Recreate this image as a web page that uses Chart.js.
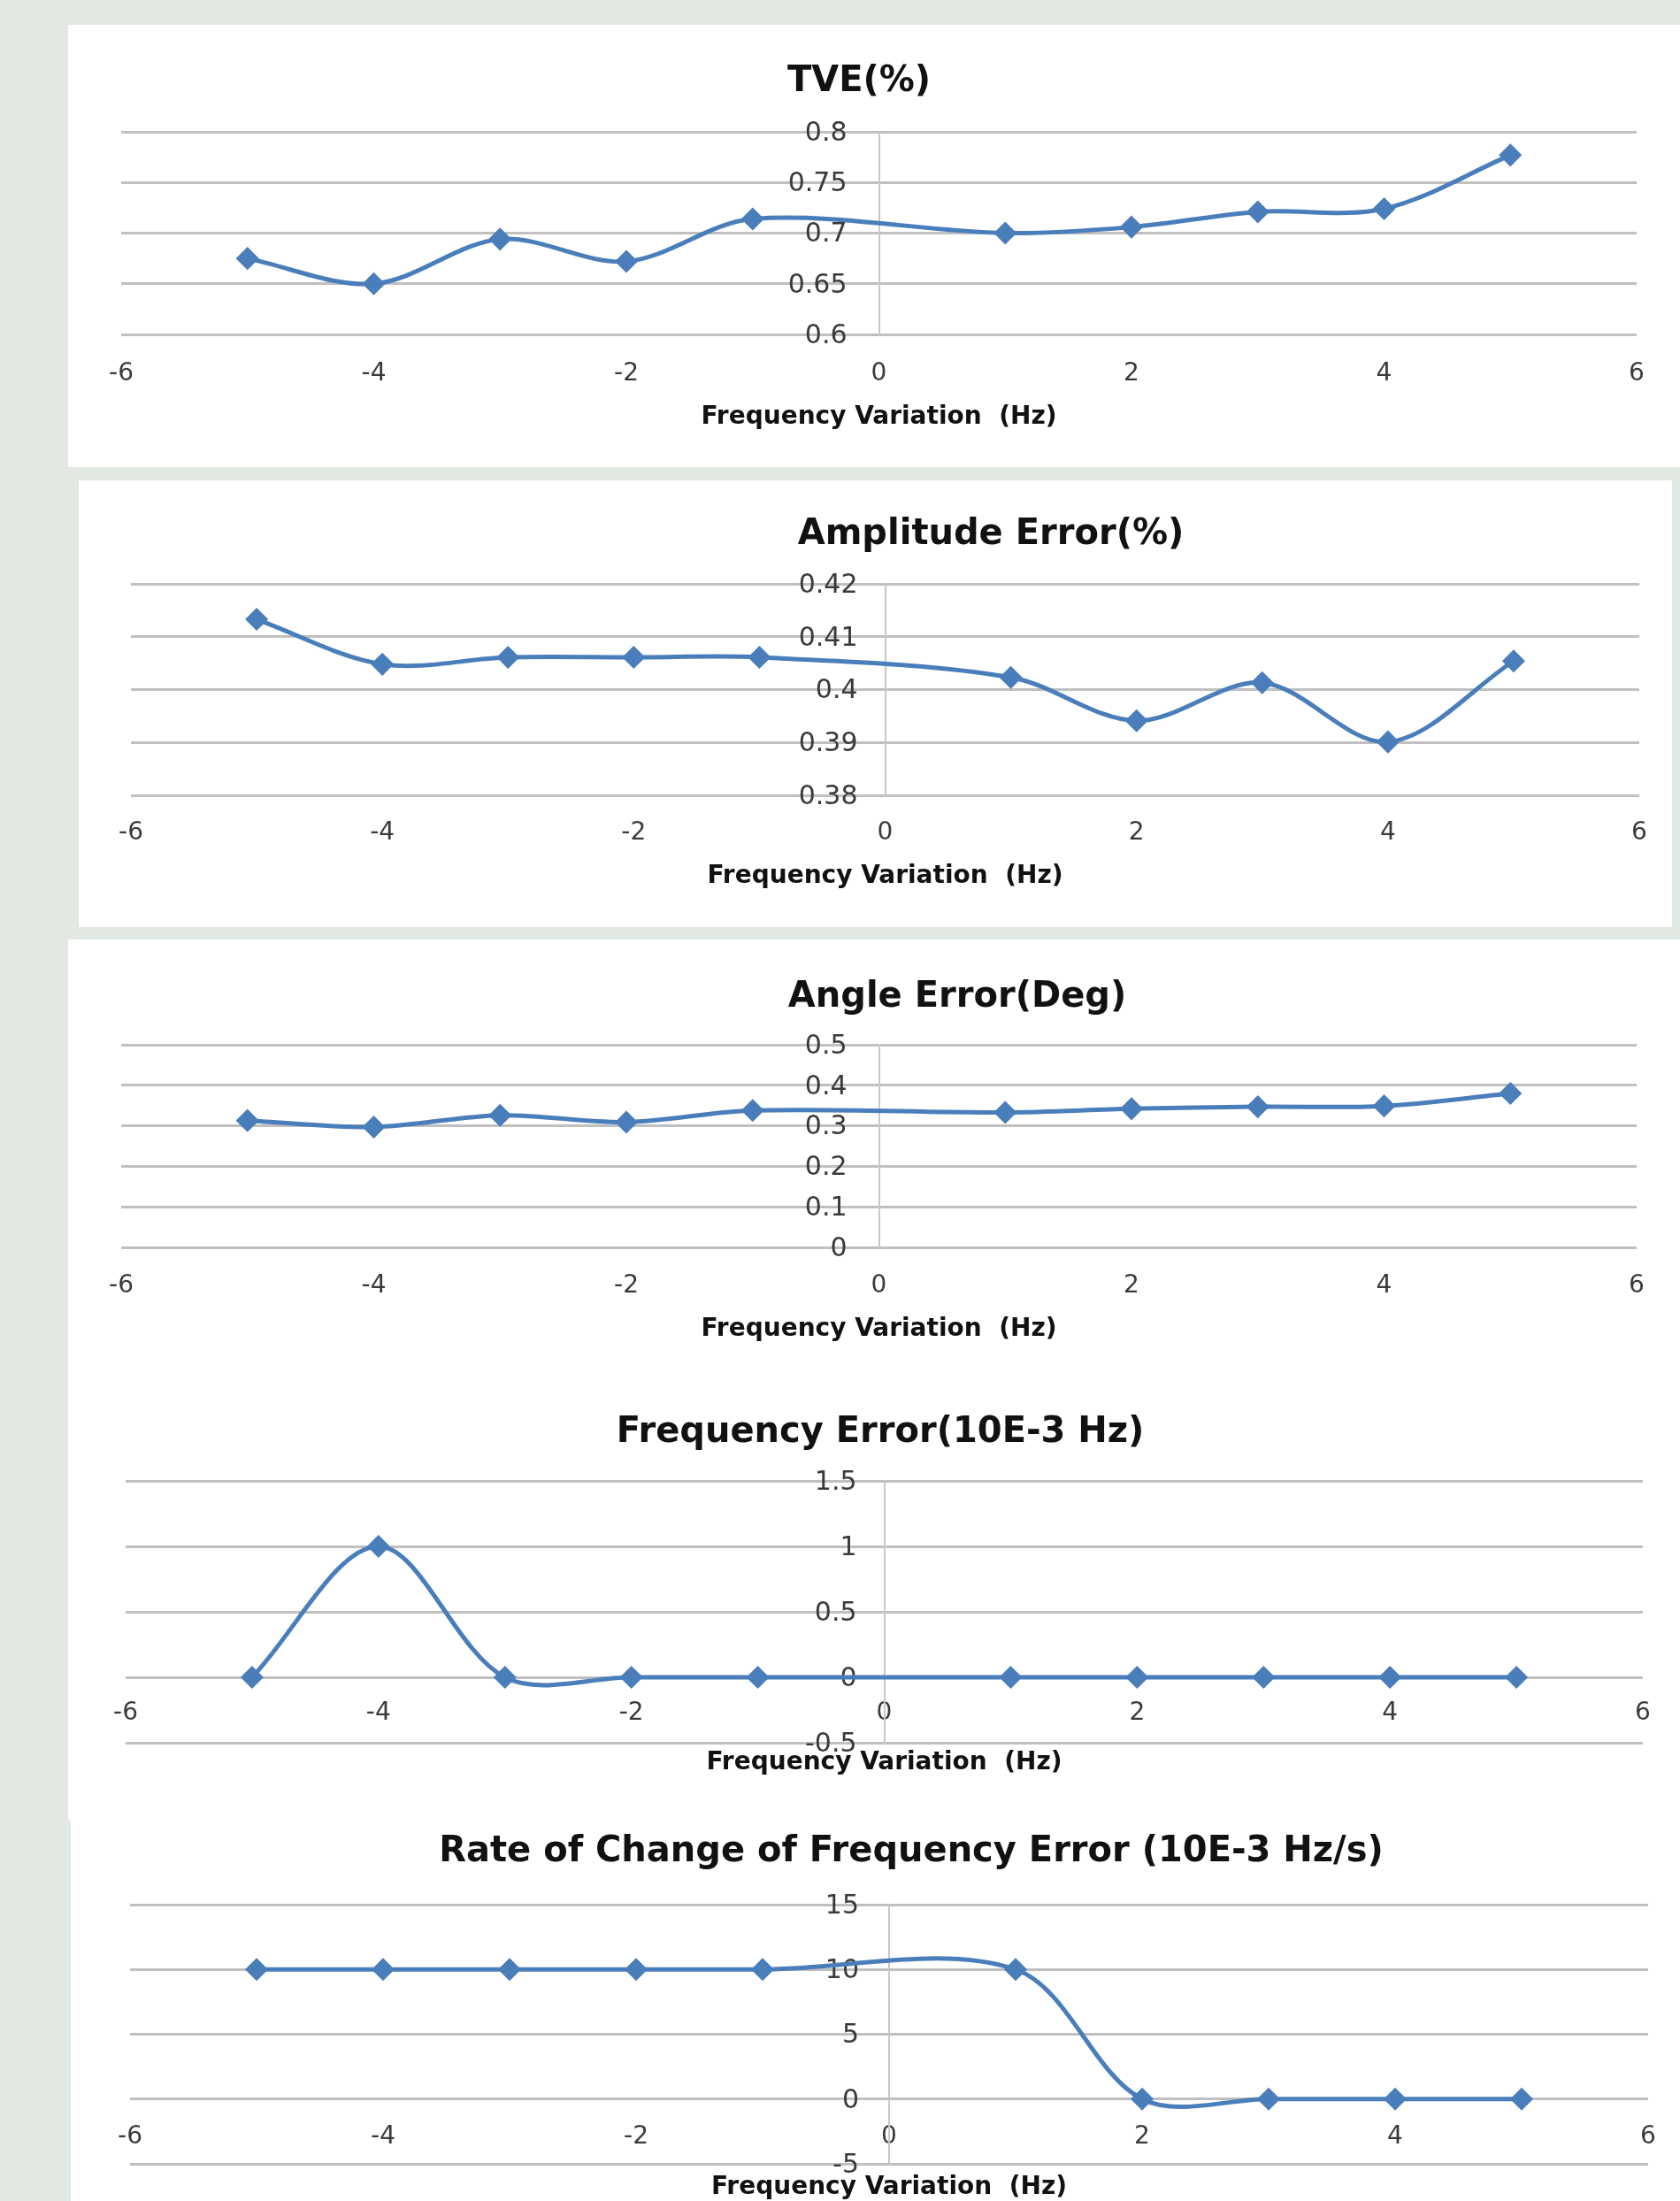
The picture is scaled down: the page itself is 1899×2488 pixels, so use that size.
<!DOCTYPE html>
<html>
<head>
<meta charset="utf-8">
<script src="https://cdn.jsdelivr.net/npm/chart.js@4.4.1/dist/chart.umd.min.js"></script>
<style>
html,body{margin:0;padding:0;background:#e2e8e2;}
body{width:1899px;height:2488px;position:relative;overflow:hidden;}
.panel{position:absolute;background:#ffffff;overflow:hidden;}
.panel canvas{position:absolute;left:0;top:0;}
</style>
</head>
<body>
<div class="panel" id="p1"><canvas id="c1"></canvas></div>
<div class="panel" id="p2"><canvas id="c2"></canvas></div>
<div class="panel" id="p3"><canvas id="c3"></canvas></div>
<div class="panel" id="p4"><canvas id="c4"></canvas></div>
<div class="panel" id="p5"><canvas id="c5"></canvas></div>
<script>
// ---------------- DATA ----------------
const freqVariation = [-5, -4, -3, -2, -1, 1, 2, 3, 4, 5];
const xTickValues = [-6, -4, -2, 0, 2, 4, 6];
const xAxisTitle = 'Frequency Variation  (Hz)';

const tveTitle = 'TVE(%)';
const tveValues = [0.675, 0.650, 0.694, 0.672, 0.714, 0.700, 0.706, 0.721, 0.724, 0.777];
const tveTicks = [0.6, 0.65, 0.7, 0.75, 0.8];

const amplitudeTitle = 'Amplitude Error(%)';
const amplitudeValues = [0.4133, 0.4048, 0.4061, 0.4061, 0.4061, 0.4023, 0.3941, 0.4013, 0.3901, 0.4054];
const amplitudeTicks = [0.38, 0.39, 0.4, 0.41, 0.42];

const angleTitle = 'Angle Error(Deg)';
const angleValues = [0.313, 0.297, 0.326, 0.309, 0.338, 0.333, 0.342, 0.347, 0.349, 0.380];
const angleTicks = [0, 0.1, 0.2, 0.3, 0.4, 0.5];

const freqErrTitle = 'Frequency Error(10E-3 Hz)';
const freqErrValues = [0, 1, 0, 0, 0, 0, 0, 0, 0, 0];
const freqErrTicks = [-0.5, 0, 0.5, 1, 1.5];

const rocofTitle = 'Rate of Change of Frequency Error (10E-3 Hz/s)';
const rocofValues = [10, 10, 10, 10, 10, 10, 0, 0, 0, 0];
const rocofTicks = [-5, 0, 5, 10, 15];

// ---------------- LAYOUT / STYLE ----------------
const layouts = {
  p1: {x: 77, y: 28,   w: 1822, h: 500, ch: 500, plot: {left: 137, right: 1850, top: 149,  bottom: 378},  titleX: 971,  titleY: 93,   axisTitleY: 472,  gap: 45, yShift: 36},
  p2: {x: 89, y: 543,  w: 1801, h: 505, ch: 505, plot: {left: 148, right: 1853, top: 660,  bottom: 899},  titleX: 1120, titleY: 605,  axisTitleY: 991,  gap: 43, yShift: 31},
  p3: {x: 77, y: 1062, w: 1822, h: 493, ch: 493, plot: {left: 137, right: 1850, top: 1181, bottom: 1410}, titleX: 1082, titleY: 1128, axisTitleY: 1503, gap: 44, yShift: 36},
  p4: {x: 77, y: 1555, w: 1822, h: 503, ch: 503, plot: {left: 142, right: 1857, top: 1674, bottom: 1970}, titleX: 995,  titleY: 1620, axisTitleY: 1993, gap: 41, yShift: 31},
  p5: {x: 80, y: 2058, w: 1819, h: 430, ch: 460, plot: {left: 147, right: 1863, top: 2153, bottom: 2446}, titleX: 1030, titleY: 2094, axisTitleY: 2473, gap: 43, yShift: 34}
};
const BLUE = '#4a7ebb';
const FONT = 'DejaVu Sans';
const TITLE_SIZE = 40, AXIS_TITLE_SIZE = 28, X_TICK_SIZE = 28, Y_TICK_SIZE = 30, LH = 1.2;

function fmt(v) { return String(+(+v).toFixed(4)); }

// moves the labels of a y axis that sits at x = 0 a little to the left of the axis line
const yLabelShift = {
  id: 'yLabelShift',
  beforeDraw(chart, args, opts) {
    const s = chart.scales.y;
    if (!s) return;
    const items = s.getLabelItems(chart.chartArea);
    items.forEach(it => {
      if (!it._shifted && it.options && it.options.translation) {
        it.options.translation[0] -= opts.shift || 0;
        it._shifted = true;
      }
    });
  }
};

function makeChart(panelId, canvasId, titleText, values, yTicks, xAxisAt) {
  const L = layouts[panelId];
  const div = document.getElementById(panelId);
  div.style.left = L.x + 'px'; div.style.top = L.y + 'px';
  div.style.width = L.w + 'px'; div.style.height = L.h + 'px';

  const pl = L.plot.left - L.x, pr = L.plot.right - L.x;
  const tc = L.titleX - L.x, pc = (pl + pr) / 2;
  let cw, padL, padR, dL = 0, dR = 0;
  if (tc <= pc) {
    cw = L.w;
    padR = cw - pr;
    padL = Math.max(0, 2 * tc - pr);
    dL = pl - padL;
  } else {
    const boxRight = 2 * tc - pl;
    cw = Math.max(L.w, Math.ceil(boxRight) + 2);
    padL = pl;
    padR = cw - boxRight;
    dR = boxRight - pr;
  }
  const chH = L.ch;
  const canvas = document.getElementById(canvasId);
  canvas.width = cw; canvas.height = chH;
  canvas.style.width = cw + 'px'; canvas.style.height = chH + 'px';

  const tLH = TITLE_SIZE * LH;
  const tPadTop = (L.titleY - L.y) - tLH / 2;
  const tPadBottom = (L.plot.top - L.y) - tPadTop - tLH;
  const aLH = AXIS_TITLE_SIZE * LH;
  const bottomSpace = (L.y + chH) - L.plot.bottom;
  const aPadBottom = (L.y + chH - L.axisTitleY) - aLH / 2;
  const aPadTop = bottomSpace - aLH - aPadBottom;
  const xTickPad = L.gap - (X_TICK_SIZE * LH) / 2;

  const yMin = Math.min.apply(null, yTicks), yMax = Math.max.apply(null, yTicks);

  const spacer = (pos, width) => ({
    type: 'linear', axis: 'y', position: pos, display: true,
    ticks: {display: false}, grid: {display: false, drawTicks: false}, border: {display: false},
    afterFit: s => { s.width = width; }
  });

  const scales = {
    x: {
      type: 'linear', position: {y: xAxisAt}, min: -6, max: 6,
      afterBuildTicks: s => { s.ticks = xTickValues.map(v => ({value: v})); },
      grid: {display: false, drawTicks: false},
      border: {display: false},
      ticks: {padding: xTickPad, color: '#3a3a3a', autoSkip: false, maxRotation: 0,
              font: {family: FONT, size: X_TICK_SIZE, lineHeight: LH}, callback: v => fmt(v)}
    },
    xt: {
      type: 'linear', axis: 'x', position: 'bottom', display: true,
      ticks: {display: false},
      grid: {display: false, drawTicks: false},
      border: {display: false},
      title: {display: true, text: xAxisTitle, color: '#111111',
              font: {family: FONT, weight: 'bold', size: AXIS_TITLE_SIZE, lineHeight: LH},
              padding: {top: aPadTop, bottom: aPadBottom}}
    },
    y: {
      type: 'linear', position: {x: 0}, min: yMin, max: yMax,
      afterBuildTicks: s => { s.ticks = yTicks.map(v => ({value: v})); },
      grid: {color: '#c0c0c0', lineWidth: 3, drawTicks: false},
      border: {display: true, color: '#c8c8c8', width: 2},
      ticks: {padding: 0, labelOffset: 2, color: '#3a3a3a', autoSkip: false,
              font: {family: FONT, size: Y_TICK_SIZE, lineHeight: LH}, callback: v => fmt(v)}
    }
  };
  if (dL > 0.5) scales.spaceL = spacer('left', dL);
  if (dR > 0.5) scales.spaceR = spacer('right', dR);

  return new Chart(canvas, {
    type: 'line',
    data: {
      datasets: [{
        data: freqVariation.map((x, i) => ({x: x, y: values[i]})),
        xAxisID: 'x', yAxisID: 'y',
        borderColor: BLUE, backgroundColor: BLUE, borderWidth: 5,
        tension: 0.33, fill: false,
        pointStyle: 'rectRot', pointRadius: 12,
        pointBackgroundColor: BLUE, pointBorderColor: BLUE, pointBorderWidth: 1.5
      }]
    },
    plugins: [yLabelShift],
    options: {
      responsive: false, animation: false, events: [],
      layout: {padding: {left: padL, right: padR, top: 0, bottom: 0}},
      plugins: {
        legend: {display: false},
        tooltip: {enabled: false},
        yLabelShift: {shift: L.yShift},
        title: {
          display: true, text: titleText, color: '#111111',
          font: {family: FONT, weight: 'bold', size: TITLE_SIZE, lineHeight: LH},
          padding: {top: tPadTop, bottom: tPadBottom}
        }
      },
      scales: scales
    }
  });
}

makeChart('p1', 'c1', tveTitle, tveValues, tveTicks, 0.6);
makeChart('p2', 'c2', amplitudeTitle, amplitudeValues, amplitudeTicks, 0.38);
makeChart('p3', 'c3', angleTitle, angleValues, angleTicks, 0);
makeChart('p4', 'c4', freqErrTitle, freqErrValues, freqErrTicks, 0);
makeChart('p5', 'c5', rocofTitle, rocofValues, rocofTicks, 0);
</script>
</body>
</html>
